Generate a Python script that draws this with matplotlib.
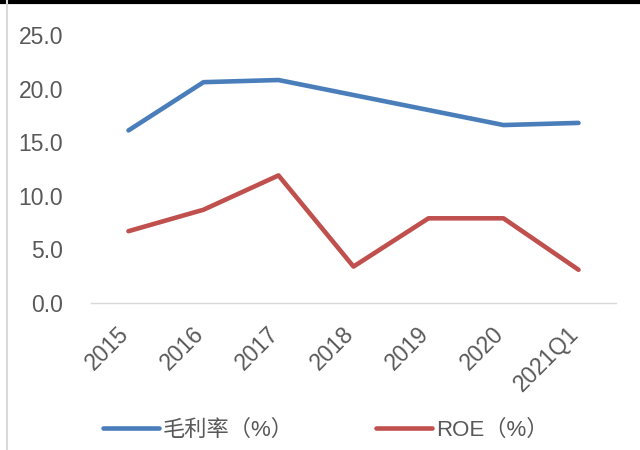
import matplotlib
matplotlib.use('Agg')
import matplotlib.pyplot as plt
import matplotlib.transforms as mtransforms
from matplotlib.lines import Line2D

plt.rcParams['font.family'] = ['Liberation Sans', 'Noto Sans CJK SC', 'DejaVu Sans']

# data
periods = ['2015', '2016', '2017', '2018', '2019', '2020', '2021Q1']
gross_margin = [16.1, 20.6, 20.8, 19.4, 18.0, 16.6, 16.8]
roe = [6.7, 8.7, 11.9, 3.4, 7.9, 7.9, 3.1]
yticks = [0, 5, 10, 15, 20, 25]

blue = '#4A7EBB'
red = '#C0504D'
txt = '#595959'

W, H = 640, 450
fig = plt.figure(figsize=(6.4, 4.5), dpi=100)
# axes box in pixels: left 91, right 616, top 35, bottom 303
ax = fig.add_axes([91/W, (H-303)/H, (616-91)/W, (303-35)/H])

x = list(range(len(periods)))
ax.plot(x, gross_margin, color=blue, lw=3.3, solid_capstyle='round',
        solid_joinstyle='round', label='毛利率（%）')
ax.plot(x, roe, color=red, lw=3.3, solid_capstyle='round',
        solid_joinstyle='round', label='ROE（%）')

ax.set_xlim(-0.5, len(periods) - 0.5)
ax.set_ylim(0, 25)
ax.set_yticks(yticks)
ax.set_yticklabels(['%.1f' % v for v in yticks])
ax.set_xticks(x)
ax.set_xticklabels(periods, rotation=45, ha='right', va='top')

for s in ['top', 'right', 'left']:
    ax.spines[s].set_visible(False)
ax.spines['bottom'].set_color('#D9D9D9')
ax.spines['bottom'].set_linewidth(1.0)

ax.tick_params(axis='both', length=0, labelsize=16.5, labelcolor=txt)
ax.tick_params(axis='y', pad=20)
ax.tick_params(axis='x', pad=14)
off = mtransforms.ScaledTranslation(5/100, 0, fig.dpi_scale_trans)
for lab in ax.get_xticklabels():
    lab.set_transform(lab.get_transform() + off)

leg = ax.legend(loc='center left', bbox_to_anchor=(103/W, (H-430)/H),
                bbox_transform=fig.transFigure, ncol=2, frameon=False,
                fontsize=16, handlelength=2.5, handletextpad=0.2,
                columnspacing=3.7, borderpad=0, borderaxespad=0)
for t in leg.get_texts():
    t.set_color(txt)

# frame remnants of the screenshot
fig.add_artist(Line2D([0, 1], [1 - 1.5/H, 1 - 1.5/H], color='black', lw=3,
                      transform=fig.transFigure))
fig.add_artist(Line2D([7/W, 7/W], [0, 1], color='#D9D9D9', lw=1.5,
                      transform=fig.transFigure))

fig.savefig('out.png', dpi=100)
